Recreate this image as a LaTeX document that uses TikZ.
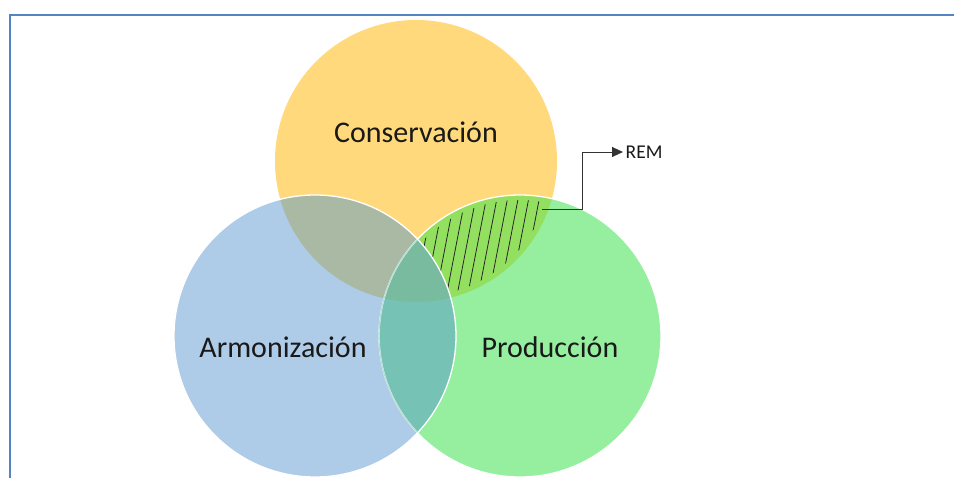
\documentclass[tikz,border=0pt]{standalone}
\usepackage{fontspec}
\setmainfont{Carlito}
\usetikzlibrary{arrows.meta}
\definecolor{cY}{HTML}{FFD97C}
\definecolor{cB}{HTML}{AECBE8}
\definecolor{cG}{HTML}{95EF9F}
\definecolor{cYB}{HTML}{AAB9A4}
\definecolor{cYG}{HTML}{93E060}
\definecolor{cBG}{HTML}{76C3B5}
\definecolor{cYBG}{HTML}{78BB9F}
\definecolor{frameblue}{HTML}{5584C4}
\begin{document}
\begin{tikzpicture}[x=1pt,y=-1pt,
  lbl/.style={font=\fontsize{30}{34}\selectfont, text=black!90, inner sep=0pt},
  remlbl/.style={font=\fontsize{19.5}{23}\selectfont, text=black!90, inner sep=2.5pt, anchor=west},
  outline/.style={draw=white, line width=1.3pt},
  hatch/.style={draw=black!85, line width=0.8pt},
  callout/.style={draw=black!80, line width=0.9pt, -{Triangle[length=11pt,width=10pt]}}]
\useasboundingbox (0,0) rectangle (954,478);
% frame
\draw[frameblue, line width=2.5pt] (10,480) -- (10,14.8) -- (956,14.8);
% centres
\coordinate (Y) at (416,161);
\coordinate (B) at (315,336);
\coordinate (G) at (520,336);
\def\R{141}
% single regions
\fill[cY] (Y) circle [radius=\R];
\fill[cB] (B) circle [radius=\R];
\fill[cG] (G) circle [radius=\R];
% pair overlaps
\begin{scope}\clip (Y) circle [radius=\R]; \fill[cYB] (B) circle [radius=\R]; \end{scope}
\begin{scope}\clip (Y) circle [radius=\R]; \fill[cYG] (G) circle [radius=\R]; \end{scope}
\begin{scope}\clip (B) circle [radius=\R]; \fill[cBG] (G) circle [radius=\R]; \end{scope}
% hatching in conservacion & produccion
\begin{scope}
  \clip (Y) circle [radius=136];
  \clip (G) circle [radius=136];
  \foreach \k in {-6,...,10} {
    \draw[hatch] ({465.8+10.6*\k-17},338) -- ({465.8+10.6*\k+17},162);
  }
\end{scope}
% triple overlap (covers hatching there)
\begin{scope}\clip (Y) circle [radius=\R]; \clip (B) circle [radius=\R]; \fill[cYBG] (G) circle [radius=\R]; \end{scope}
% outlines
\draw[outline] (G) circle [radius=\R];
\begin{scope}\clip (B) circle [radius=\R];
  \draw[draw=cBG!55!white, line width=1.1pt] (G) circle [radius=\R];
\end{scope}
\draw[outline] (B) circle [radius=\R];
% labels
\node[lbl] (cons) at (416,132) {Conservación};
\node[lbl] (arm) at (283,347) {Armonización};
\node[lbl] (prod) at (550,347) {Producción};
% callout
\coordinate (remsrc) at (542,209);
\node[remlbl] (rem) at (623,152) {REM};
\draw[callout] (remsrc) -- ++(40,0) |- (rem.west);
\end{tikzpicture}
\end{document}
